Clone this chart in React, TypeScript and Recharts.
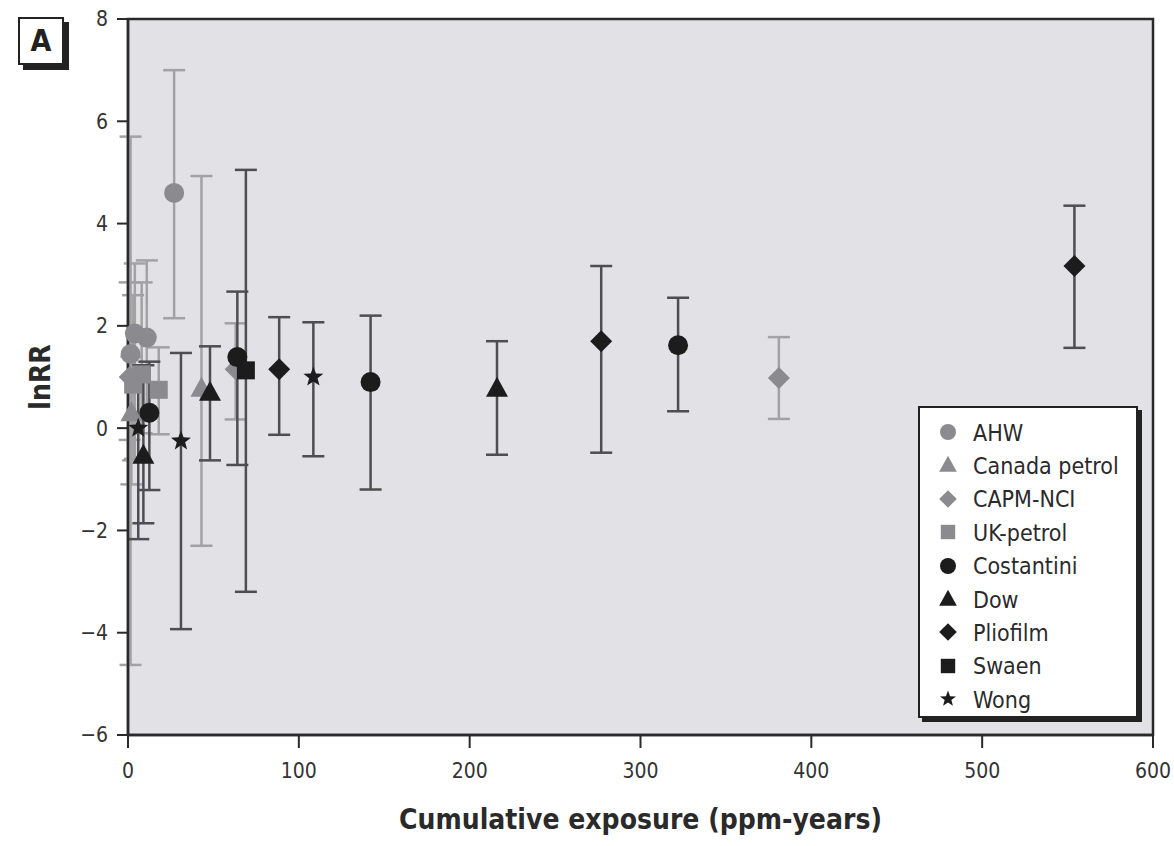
import {
  CartesianGrid,
  ErrorBar,
  Label,
  ReferenceArea,
  Scatter,
  ScatterChart,
  XAxis,
  YAxis,
} from 'recharts'

// each point: exposure, lnRR, lower / upper confidence limit
const ahw = [
  { x: 1.5, y: 1.45, lo: -4.63, hi: 5.7 },
  { x: 4, y: 1.85, lo: -0.6, hi: 3.22 },
  { x: 11, y: 1.77, lo: 0.25, hi: 3.28 },
  { x: 27, y: 4.6, lo: 2.15, hi: 7.0 },
]
const canadaPetrol = [
  { x: 2, y: 0.3, lo: -1.1, hi: 1.4 },
  { x: 43, y: 0.78, lo: -2.3, hi: 4.93 },
]
const capmNci = [
  { x: 1, y: 1.0, lo: -0.23, hi: 2.85 },
  { x: 63, y: 1.15, lo: 0.17, hi: 2.05 },
  { x: 381, y: 0.98, lo: 0.18, hi: 1.78 },
]
const ukPetrol = [
  { x: 3, y: 0.85, lo: -0.63, hi: 2.6 },
  { x: 8, y: 1.05, lo: -0.1, hi: 2.85 },
  { x: 18, y: 0.75, lo: -0.12, hi: 1.58 },
]
const costantini = [
  { x: 12.5, y: 0.3, lo: -1.21, hi: 1.3 },
  { x: 64, y: 1.39, lo: -0.72, hi: 2.67 },
  { x: 142, y: 0.9, lo: -1.2, hi: 2.2 },
  { x: 322, y: 1.62, lo: 0.33, hi: 2.55 },
]
const dow = [
  { x: 9, y: -0.53, lo: -1.86, hi: 1.23 },
  { x: 48, y: 0.7, lo: -0.63, hi: 1.6 },
  { x: 216, y: 0.78, lo: -0.52, hi: 1.7 },
]
const pliofilm = [
  { x: 88.5, y: 1.15, lo: -0.13, hi: 2.17 },
  { x: 277, y: 1.7, lo: -0.48, hi: 3.17 },
  { x: 554, y: 3.17, lo: 1.57, hi: 4.35 },
]
const swaen = [{ x: 69, y: 1.13, lo: -3.2, hi: 5.05 }]
const wong = [
  { x: 6, y: 0, lo: -2.17, hi: 1.0 },
  { x: 31, y: -0.25, lo: -3.93, hi: 1.47 },
  { x: 108.5, y: 1.0, lo: -0.55, hi: 2.07 },
]

const xTicks = [0, 100, 200, 300, 400, 500, 600]
const yTicks = [-6, -4, -2, 0, 2, 4, 6, 8]

const GRAY = '#8b8b8f'
const GRAY_BAR = '#a2a2a4'
const DARK = '#1c1c1c'
const DARK_BAR = '#4e4e50'
const FONT = '"DejaVu Sans Condensed", "DejaVu Sans", sans-serif'

type Kind = 'circle' | 'triangle' | 'diamond' | 'square' | 'star'

const series: { name: string; kind: Kind; dark: boolean; data: typeof ahw }[] = [
  { name: 'AHW', kind: 'circle', dark: false, data: ahw },
  { name: 'Canada petrol', kind: 'triangle', dark: false, data: canadaPetrol },
  { name: 'CAPM-NCI', kind: 'diamond', dark: false, data: capmNci },
  { name: 'UK-petrol', kind: 'square', dark: false, data: ukPetrol },
  { name: 'Costantini', kind: 'circle', dark: true, data: costantini },
  { name: 'Dow', kind: 'triangle', dark: true, data: dow },
  { name: 'Pliofilm', kind: 'diamond', dark: true, data: pliofilm },
  { name: 'Swaen', kind: 'square', dark: true, data: swaen },
  { name: 'Wong', kind: 'star', dark: true, data: wong },
]

function starPoints(cx: number, cy: number, r: number) {
  const pts: string[] = []
  for (let i = 0; i < 10; i++) {
    const rr = i % 2 === 0 ? r : r * 0.42
    const a = -Math.PI / 2 + (i * Math.PI) / 5
    pts.push(`${cx + rr * Math.cos(a)},${cy + rr * Math.sin(a)}`)
  }
  return pts.join(' ')
}

function Marker({ kind, cx, cy, s, fill }: { kind: Kind; cx: number; cy: number; s: number; fill: string }) {
  if (kind === 'circle') return <circle cx={cx} cy={cy} r={s} fill={fill} />
  if (kind === 'triangle')
    return (
      <polygon
        points={`${cx},${cy - s * 1.15} ${cx - s * 1.1},${cy + s * 0.85} ${cx + s * 1.1},${cy + s * 0.85}`}
        fill={fill}
      />
    )
  if (kind === 'diamond')
    return (
      <polygon
        points={`${cx},${cy - s * 1.1} ${cx + s * 1.1},${cy} ${cx},${cy + s * 1.1} ${cx - s * 1.1},${cy}`}
        fill={fill}
      />
    )
  if (kind === 'square')
    return <rect x={cx - s * 0.9} y={cy - s * 0.9} width={s * 1.8} height={s * 1.8} fill={fill} />
  return <polygon points={starPoints(cx, cy, s * 1.05)} fill={fill} />
}

function withErr(d: typeof ahw) {
  return d.map((p) => ({ ...p, err: [p.y - p.lo, p.hi - p.y] }))
}

function LegendBox() {
  return (
    <div
      style={{
        position: 'absolute',
        left: 918,
        top: 406,
        width: 216,
        height: 308,
        background: '#fff',
        border: '2px solid #222',
        boxShadow: '4px 4px 0 #222',
        fontFamily: FONT,
        fontStretch: 'condensed',
        fontSize: 23,
        color: '#2a2a2a',
      }}
    >
      {series.map((s, i) => (
        <div
          key={s.name}
          style={{ position: 'absolute', left: 0, top: 8 + i * 33.4, height: 33, display: 'flex', alignItems: 'center' }}
        >
          <svg width={50} height={33} style={{ display: 'block' }}>
            <Marker kind={s.kind} cx={28} cy={16} s={8} fill={s.dark ? DARK : GRAY} />
          </svg>
          <span style={{ marginLeft: 3 }}>{s.name}</span>
        </div>
      ))}
    </div>
  )
}

const tickStyle = { fill: '#333', fontSize: 21, fontFamily: FONT, fontStretch: 'condensed' }
const titleStyle = { fill: '#2a2a2a', fontSize: 28, fontWeight: 700, fontFamily: FONT, fontStretch: 'condensed' }

export default function App() {
  return (
    <div
      style={{
        position: 'absolute',
        left: 0,
        top: 0,
        width: 1174,
        height: 846,
        background: '#fff',
        overflow: 'hidden',
      }}
    >
      <ScatterChart width={1174} height={846} margin={{ top: 19, right: 21, bottom: 11, left: 0 }}>
        <CartesianGrid horizontal={false} vertical={false} fill="#e2e2e6" />
        <XAxis
          type="number"
          dataKey="x"
          domain={[0, 600]}
          ticks={xTicks}
          height={100}
          tickSize={13}
          tickMargin={15}
          axisLine={{ stroke: '#2a2a2a', strokeWidth: 2.5 }}
          tickLine={{ stroke: '#2a2a2a', strokeWidth: 2 }}
          tick={tickStyle}
        >
          <Label value="Cumulative exposure (ppm-years)" position="insideBottom" offset={6} style={titleStyle} />
        </XAxis>
        <YAxis
          type="number"
          dataKey="y"
          domain={[-6, 8]}
          ticks={yTicks}
          width={128}
          tickSize={11}
          tickMargin={9}
          axisLine={{ stroke: '#2a2a2a', strokeWidth: 2.5 }}
          tickLine={{ stroke: '#2a2a2a', strokeWidth: 2 }}
          tick={tickStyle}
          tickFormatter={(v: number) => (v < 0 ? `\u2212${-v}` : `${v}`)}
        >
          <Label
            content={(props: any) => {
              const vb = props.viewBox || { x: 0, y: 0, height: 0 }
              const cy = vb.y + vb.height / 2
              return (
                <text
                  x={40}
                  y={cy}
                  transform={`rotate(-90 40 ${cy})`}
                  textAnchor="middle"
                  dominantBaseline="central"
                  style={titleStyle}
                >
                  lnRR
                </text>
              )
            }}
          />
        </YAxis>
        <ReferenceArea x1={0} x2={600} y1={-6} y2={8} fill="none" stroke="#2a2a2a" strokeWidth={2.5} />
        {series.map((s) => (
          <Scatter
            key={s.name}
            name={s.name}
            data={withErr(s.data)}
            isAnimationActive={false}
            shape={(p: any) => <Marker kind={s.kind} cx={p.cx} cy={p.cy} s={10} fill={s.dark ? DARK : GRAY} />}
          >
            <ErrorBar
              dataKey="err"
              direction="y"
              width={11}
              stroke={s.dark ? DARK_BAR : GRAY_BAR}
              strokeWidth={2.5}
              isAnimationActive={false}
            />
          </Scatter>
        ))}
      </ScatterChart>
      <div
        style={{
          position: 'absolute',
          left: 18,
          top: 17,
          width: 42,
          height: 44,
          background: '#fff',
          border: '2px solid #222',
          boxShadow: '5px 5px 0 #222',
          fontFamily: FONT,
          fontWeight: 700,
          fontSize: 30,
          lineHeight: '44px',
          textAlign: 'center',
          color: '#222',
        }}
      >
        A
      </div>
      <LegendBox />
    </div>
  )
}
